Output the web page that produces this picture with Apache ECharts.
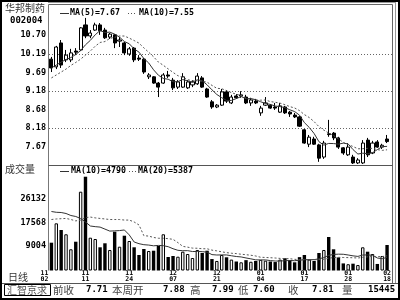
<!DOCTYPE html>
<html><head><meta charset="utf-8">
<script src="https://cdn.jsdelivr.net/npm/echarts@6/dist/echarts.min.js"></script>
<style>html,body{margin:0;padding:0;background:#fff}#c{width:400px;height:300px}</style>
</head><body><div id="c"></div>
<script>
// ---- data ----
const openP  = [10.05,9.84,10.49,10.03,10.03,10.27,10.30,10.98,10.68,10.84,
                10.98,10.84,10.65,10.71,10.54,10.49,10.19,10.35,10.08,10.05,
                9.57,9.57,9.40,9.40,9.62,9.48,9.29,9.29,9.27,9.35,
                9.38,9.54,9.24,8.89,8.75,8.80,9.16,8.86,9.05,9.05,
                9.02,8.86,8.91,8.59,8.80,8.80,8.75,8.61,8.75,8.61,
                8.53,8.48,8.13,7.74,7.88,7.72,7.39,8.02,8.04,7.91,
                7.64,7.45,7.39,7.23,7.23,7.85,7.50,7.80,7.66,7.88];
const closeP = [9.81,10.38,9.89,10.16,10.22,10.24,10.90,10.68,10.76,10.98,
                10.82,10.63,10.73,10.49,10.57,10.22,10.33,10.03,10.05,9.70,
                9.62,9.40,9.29,9.62,9.59,9.27,9.43,9.57,9.43,9.43,
                9.59,9.29,9.02,8.75,8.80,9.16,8.91,9.02,9.00,9.08,
                8.86,8.94,8.86,8.72,8.86,8.72,8.72,8.78,8.59,8.56,
                8.48,8.23,7.77,7.93,7.74,7.36,7.77,8.00,7.91,7.66,
                7.50,7.66,7.23,7.31,7.77,7.45,7.77,7.66,7.71,7.81];
const lowP   = [9.70,9.78,9.81,9.97,9.97,10.16,10.27,10.62,10.62,10.82,
                10.71,10.60,10.60,10.35,10.38,10.16,10.14,9.97,10.00,9.65,
                9.51,9.38,9.02,9.38,9.54,9.21,9.24,9.27,9.24,9.29,
                9.35,9.27,9.00,8.70,8.72,8.78,8.86,8.83,8.97,9.00,
                8.83,8.78,8.83,8.51,8.78,8.70,8.67,8.59,8.56,8.48,
                8.45,8.21,7.75,7.66,7.72,7.26,7.34,7.94,7.85,7.61,
                7.45,7.42,7.20,7.20,7.20,7.39,7.47,7.64,7.61,7.77];
const highP  = [10.11,10.41,10.57,10.30,10.33,10.35,10.92,11.17,10.84,11.04,
                11.03,10.90,10.76,10.73,10.65,10.52,10.38,10.38,10.16,10.08,
                9.67,9.59,9.43,9.67,9.73,9.54,9.48,9.67,9.48,9.48,
                9.67,9.59,9.27,8.94,8.83,9.24,9.21,9.08,9.10,9.18,
                9.08,9.00,8.97,8.78,9.02,8.83,8.86,8.86,8.78,8.64,
                8.59,8.51,8.15,7.99,7.94,7.75,7.83,8.40,8.07,7.94,
                7.66,7.77,7.45,7.36,7.85,7.91,7.83,7.85,7.75,7.99];
const volume = [10200,17300,14850,13280,7780,10560,28900,34400,12030,11550,
                8510,9980,7520,14230,8730,12760,10820,8510,5690,7890,
                7150,7260,8990,13280,4950,5320,5060,6900,6050,4590,
                7520,6420,7260,4200,3500,5690,4840,4000,3300,3000,
                3800,3200,3500,3900,3600,3300,3100,4000,4500,3800,
                3000,4900,5690,4000,3500,6420,7520,12290,7780,4800,
                2600,2300,2500,2000,8510,6900,6050,2400,5320,9350];
// moving-average values at the left edge (window not yet full)
const ma5Lead     = [9.81,9.89,9.97,10.04];
const ma10Lead    = [9.54,9.62,9.70,9.78,9.88,9.96,10.05,10.16,10.27];
const volMa10Lead = [21640,21350,21270,20910,20170,19810,19070,17790,16320];
const volMa20Lead = [18700,18900,19000,19100,18700,18200,18500,19400,19600,19300,
                     19100,18900,18700,18700,18700,18500,18500,17800,16700];
// axis labels
const priceTicks = [10.70,10.19,9.69,9.18,8.68,8.18,7.67];
const priceTickText = ['10.70','10.19','9.69','9.18','8.68','8.18','7.67'];
const priceGridLines = [10.19,9.18,8.18];
const volTicks = [26132,17568,9004];
const dateIndex = [0,7,16,25,34,43,52,61,69];
const dateMonth = ['11','11','11','12','12','01','01','01','02'];
const dateDay   = ['02','11','24','07','21','04','17','28','18'];
const legendPrice = ['MA(5)=7.67','MA(10)=7.55'];
const legendVol   = ['MA(10)=4790','MA(20)=5387'];
const infoLabels = ['前收','本周开','高','低','收','量'];
const infoValues = ['7.71','7.88','7.99','7.60','7.81','15445'];

// ---- build ----
const cats = openP.map((_, i) => String(i));
function movingAvg(src, n, lead) {
  return src.map((_, i) => {
    if (i < n - 1) return lead[i];
    let s = 0; for (let k = i - n + 1; k <= i; k++) s += src[k];
    return +(s / n).toFixed(3);
  });
}
const ma5 = movingAvg(closeP, 5, ma5Lead);
const ma10 = movingAvg(closeP, 10, ma10Lead);
const vma10 = movingAvg(volume, 10, volMa10Lead);
const vma20 = movingAvg(volume, 20, volMa20Lead);
const candles = openP.map((o, i) => [o, closeP[i], lowP[i], highP[i]]);
const volBars = volume.map((v, i) => {
  const up = closeP[i] >= openP[i];
  return {value: v, itemStyle: {color: up ? '#fff' : '#000', borderColor: '#000', borderWidth: up ? 1 : 0}};
});

const chart = echarts.init(document.getElementById('c'), null, {renderer: 'canvas', width: 400, height: 300});
chart.setOption({
  animation: false,
  backgroundColor: '#fff',
  grid: [
    {left: 49, top: 5, width: 340.5, height: 161},
    {left: 49, top: 166, width: 340.5, height: 104.5}
  ],
  xAxis: [
    {type: 'category', gridIndex: 0, data: cats, boundaryGap: true, show: false},
    {type: 'category', gridIndex: 1, data: cats, boundaryGap: true, show: false}
  ],
  yAxis: [
    {type: 'value', gridIndex: 0, min: 7.1465, max: 11.5215, show: false},
    {type: 'value', gridIndex: 1, min: 0, max: 38330, show: false}
  ],
  series: [
    {type: 'candlestick', xAxisIndex: 0, yAxisIndex: 0, data: candles, barWidth: 3.6, silent: true,
     itemStyle: {color: '#fff', color0: '#000', borderColor: '#000', borderColor0: '#000', borderWidth: 1}},
    {type: 'line', xAxisIndex: 0, yAxisIndex: 0, data: ma5, showSymbol: false, silent: true,
     lineStyle: {color: '#333', width: 1}},
    {type: 'line', xAxisIndex: 0, yAxisIndex: 0, data: ma10, showSymbol: false, silent: true,
     lineStyle: {color: '#555', width: 1, type: [2, 2]}},
    {type: 'bar', xAxisIndex: 1, yAxisIndex: 1, data: volBars, barWidth: 3.4, silent: true},
    {type: 'line', xAxisIndex: 1, yAxisIndex: 1, data: vma10, showSymbol: false, silent: true,
     lineStyle: {color: '#333', width: 1}},
    {type: 'line', xAxisIndex: 1, yAxisIndex: 1, data: vma20, showSymbol: false, silent: true,
     lineStyle: {color: '#555', width: 1, type: [2, 2]}}
  ]
});

// ---- annotations positioned through the chart's own scales ----
const g = [];
const monoB = (s) => 'bold ' + s + 'px "DejaVu Sans Mono"';
const cjk = (s) => s + 'px "Noto Sans CJK SC"';
function line(x1, y1, x2, y2, stroke, w, dash, z) {
  g.push({type: 'line', silent: true, z: z == null ? 10 : z, shape: {x1, y1, x2, y2},
          style: {stroke, lineWidth: w || 1, lineDash: dash || null}});
}
function text(t, x, y, font, fill, align) {
  g.push({type: 'text', silent: true, z: 10, x, y,
          style: {text: t, font, fill: fill || '#000', align: align || 'left', verticalAlign: 'middle'}});
}
priceGridLines.forEach(v => {
  const y = Math.round(chart.convertToPixel({yAxisIndex: 0}, v)) + 0.5;
  line(49, y, 392, y, '#666', 1, [1, 2], 0);
});
priceTicks.forEach((v, i) => {
  text(priceTickText[i], 46, chart.convertToPixel({yAxisIndex: 0}, v), monoB(8.5), '#000', 'right');
});
volTicks.forEach(v => {
  text(String(v), 46, chart.convertToPixel({yAxisIndex: 1}, v), monoB(8.5), '#000', 'right');
});
dateIndex.forEach((idx, k) => {
  const x = chart.convertToPixel({xAxisIndex: 1}, idx) - (k === 0 ? 7 : 0);
  text(dateMonth[k], x, 273, monoB(6.5), '#000', 'center');
  text(dateDay[k], x, 279, monoB(6.5), '#000', 'center');
});
g.push({type: 'rect', silent: true, z: 12, shape: {x: 1, y: 1, width: 398, height: 298},
        style: {fill: 'none', stroke: '#000', lineWidth: 2}});
line(48, 2.5, 396, 2.5, '#999', 1);
line(48.5, 4.5, 392.5, 4.5, '#666', 1);
line(48.5, 4.5, 48.5, 270.5, '#777', 1);
line(392.5, 4.5, 392.5, 283, '#666', 1);
line(395.5, 2.5, 395.5, 283, '#999', 1);
line(48.5, 165.5, 392.5, 165.5, '#555', 1);
line(1, 283.5, 399, 283.5, '#555', 1);
text('华邦制药', 5, 8, cjk(10), '#333');
text('002004', 10, 21, monoB(9), '#000');
text('成交量', 5, 169, cjk(10), '#333');
line(60, 13.5, 69, 13.5, '#333', 1);
text(legendPrice[0], 70, 13, monoB(8.3), '#000');
line(128, 13.5, 137, 13.5, '#555', 1, [1, 2]);
text(legendPrice[1], 139, 13, monoB(8.3), '#000');
line(60, 171.5, 69, 171.5, '#333', 1);
text(legendVol[0], 71, 171, monoB(8.3), '#000');
line(129, 171.5, 137, 171.5, '#555', 1, [1, 2]);
text(legendVol[1], 138, 171, monoB(8.3), '#000');
text('日线', 8, 277, cjk(10), '#333');
g.push({type: 'rect', silent: true, z: 10, shape: {x: 4.5, y: 284.5, width: 46, height: 11},
        style: {fill: 'none', stroke: '#000', lineWidth: 1}});
text('汇智京求', 7, 290, cjk(10), '#555');
const labX = [53, 112, 190, 238, 288, 342];
const valX = [86, 163, 212, 253, 312, 368];
infoLabels.forEach((t, i) => {
  text(t, labX[i], 290, cjk(10.5), '#444');
  text(infoValues[i], valX[i], 290, monoB(9), '#000');
});
chart.setOption({graphic: g});
</script>
</body></html>
